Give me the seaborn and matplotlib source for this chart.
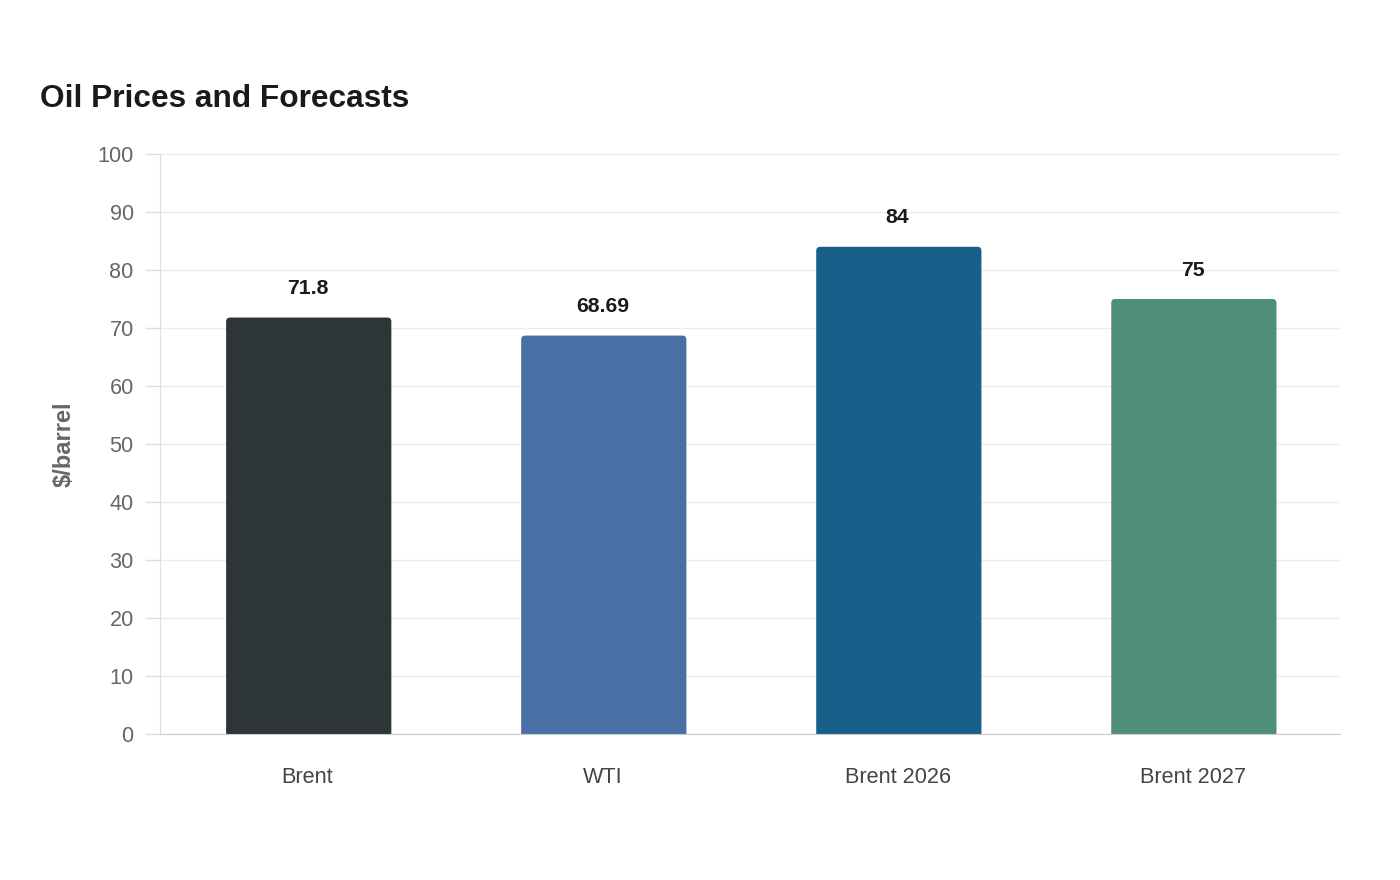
import pandas as pd
import numpy as np
import matplotlib
matplotlib.use("Agg")
import matplotlib.pyplot as plt
from matplotlib.patches import FancyBboxPatch
import seaborn as sns

sns.set_style('white')
plt.rcParams['font.family'] = ['Liberation Sans', 'DejaVu Sans']

# chart data
categories = ["Brent", "WTI", "Brent 2026", "Brent 2027"]
prices = [71.8, 68.69, 84, 75]
labels = ["71.8", "68.69", "84", "75"]
colors = ["#2e3536", "#4a6fa5", "#18608a", "#4e8e7b"]
yticks = [0, 10, 20, 30, 40, 50, 60, 70, 80, 90, 100]

df = pd.DataFrame({'name': categories, 'price': prices})

fig = plt.figure(figsize=(14, 8.8), dpi=100)
ax = fig.add_axes([0.1143, 0.166, 0.843, 0.659])

sns.barplot(data=df, x='name', y='price', hue='name', palette=colors,
            legend=False, width=0.56, saturation=1, ax=ax, zorder=3)

ax.set_ylim(0, 100)
ax.set_xlim(-0.5, 3.5)

# swap plain bars for ones with slightly rounded tops
rx = 0.0136
ry = 0.69
for p in list(ax.patches):
    x0, y0 = p.get_x(), p.get_y()
    w, h = p.get_width(), p.get_height()
    fc = p.get_facecolor()
    p.remove()
    rb = FancyBboxPatch((x0 + 0.004, y0 - 2), w, h + 2,
                        boxstyle=f"round,pad=0,rounding_size={rx}",
                        mutation_aspect=ry / rx, facecolor=fc,
                        edgecolor='none', zorder=3)
    ax.add_patch(rb)

# value labels
for i, (v, t) in enumerate(zip(prices, labels)):
    ax.annotate(t, (i, v), xytext=(0, 14), textcoords='offset points',
                ha='center', va='bottom', fontsize=15.3, fontweight='bold',
                color='#1a1a1a')

ax.set_yticks(yticks)
ax.grid(axis='y', color='#ececec', linewidth=1, zorder=0)
ax.set_axisbelow(True)
ax.tick_params(axis='y', left=True, length=11, width=1, color='#dddddd',
               labelsize=15.6, labelcolor='#666666', pad=8)
ax.tick_params(axis='x', bottom=False, length=0, labelsize=15.6,
               labelcolor='#444444', pad=24)

for s in ['top', 'right']:
    ax.spines[s].set_visible(False)
ax.spines['left'].set_color('#dddddd')
ax.spines['bottom'].set_color('#cccccc')
ax.spines['bottom'].set_zorder(4)

ax.set_xlabel('')
ax.set_ylabel('$/barrel', fontsize=17, fontweight='bold', color='#666666',
              labelpad=16)

fig.text(0.0286, 0.878, 'Oil Prices and Forecasts', fontsize=22.8,
         fontweight='bold', color='#1a1a1a', va='baseline', ha='left')

fig.savefig('out.png', dpi=100)
